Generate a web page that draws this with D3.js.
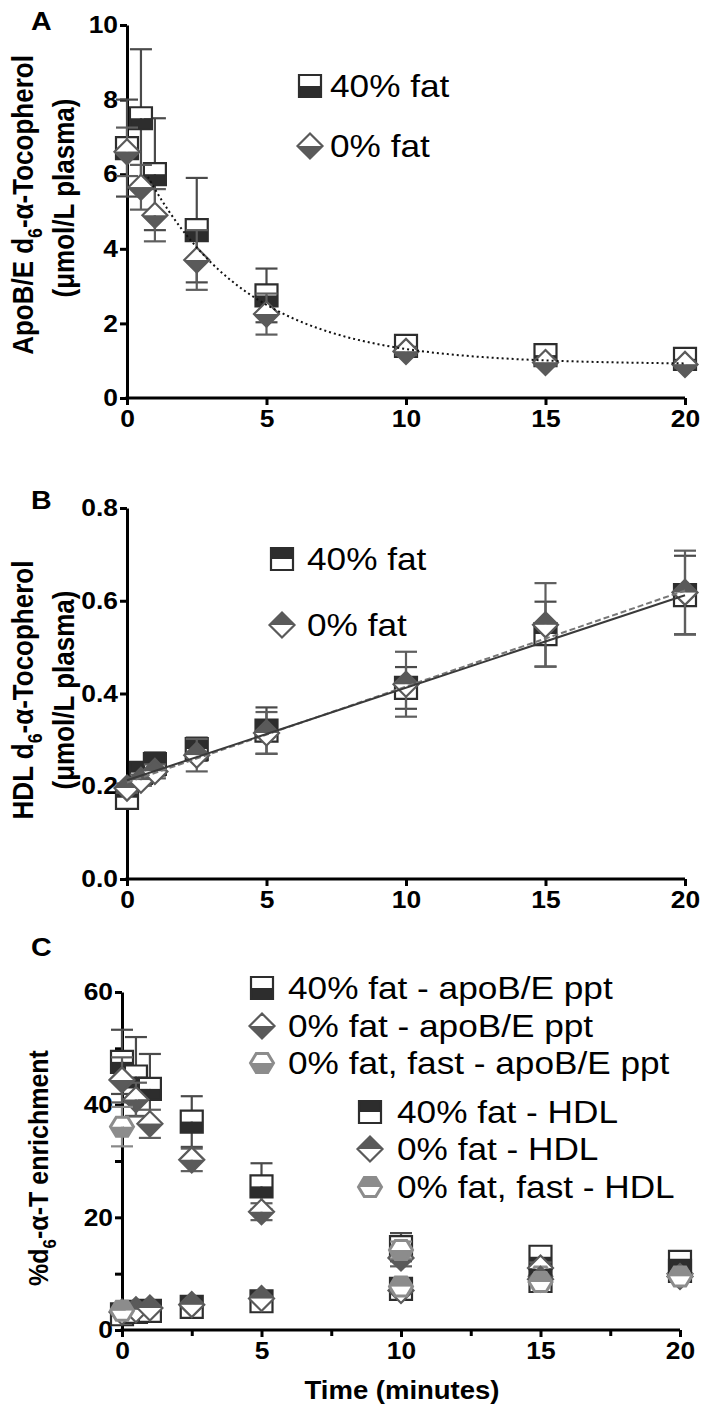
<!DOCTYPE html>
<html><head><meta charset="utf-8">
<script src="https://cdn.jsdelivr.net/npm/d3@7"></script>
<style>body{margin:0;background:#fff}svg{display:block}text{font-family:"Liberation Sans",Arial,sans-serif}</style>
</head><body>
<svg id="c" width="704" height="1411"></svg>
<script>
// ---------- DATA ----------
const times = [0, 0.5, 1, 2.5, 5, 10, 15, 20];
const fastTimes = [0, 10, 15, 20];
const xTicks = [0, 5, 10, 15, 20];

// Panel A: ApoB/E d6-alpha-tocopherol (umol/L plasma)
const aFat40 = [6.7, 7.5, 6.0, 4.5, 2.75, 1.4, 1.15, 1.05];
const aFat40Err = [1.3, 1.85, 1.5, 1.4, 0.72, 0.15, 0.1, 0.1];
const aFat0 = [6.6, 5.65, 4.9, 3.7, 2.25, 1.25, 0.95, 0.9];
const aFat0Err = [0.65, 0.6, 0.7, 0.8, 0.55, 0.1, 0.08, 0.08];
const aYTicks = [0, 2, 4, 6, 8, 10];
const aFit = {plateau: 0.9, span: 4.7, k: 0.27, t0: 1, tStart: 0.75, tEnd: 20};

// Panel B: HDL d6-alpha-tocopherol
const bFat40 = [0.175, 0.229, 0.248, 0.28, 0.32, 0.412, 0.528, 0.612];
const bFat40Err = [0.015, 0.015, 0.025, 0.025, 0.05, 0.045, 0.07, 0.085];
const bFat0 = [0.196, 0.213, 0.232, 0.267, 0.315, 0.42, 0.548, 0.618];
const bFat0Err = [0.01, 0.012, 0.015, 0.035, 0.045, 0.07, 0.09, 0.09];
const bYTicks = [0, 0.2, 0.4, 0.6, 0.8];
const bFit40 = {intercept: 0.213, slope: 0.01995};
const bFit0 = {intercept: 0.208, slope: 0.0207};

// Panel C: % d6-alpha-T enrichment
const cApoFat40 = [47.6, 45, 42.8, 37, 25.5, 14.7, 13.0, 12.1];
const cApoFat40Err = [5.7, 7, 6.2, 4.5, 4.1, 2.5, 1, 1];
const cApoFat0 = [44.4, 40.9, 36.6, 30.2, 21.0, 12.8, 11.0, 10.0];
const cApoFat0Err = [4, 3, 2.5, 2, 1.5, 1.5, 1, 0.8];
const cApoFast = [36.1, 14.2, 9.5, 10.0];
const cApoFastErr = [3.5, 1.5, 1, 1];
const cHdlFat40 = [2.8, 3.2, 3.4, 4.1, 5.1, 7.3, 8.7, 10.5];
const cHdlFat0 = [3.2, 3.6, 3.9, 4.5, 5.6, 7.0, 9.0, 9.5];
const cHdlFast = [3.4, 7.7, 8.5, 9.5];
const cYTicks = [0, 20, 40, 60];
const cYMinor = [10, 30, 50];
const cXMinor = [2.5, 7.5, 12.5, 17.5];

// ---------- STYLE ----------
const SX = 1.1;
const DARK = "#2d2d2d", MID = "#5a5a5a", LIGHT = "#8c8c8c";
const svg = d3.select("#c");

function stext(x, y, str, size, weight, anchor) {
  return svg.append("text").attr("transform", `translate(${x},${y}) scale(${SX},1)`)
    .attr("font-size", size).attr("font-weight", weight || "normal")
    .attr("text-anchor", anchor || "start").attr("fill", "#000").text(str);
}
function ytitle(x, y, parts, size) {
  const t = svg.append("text").attr("transform", `translate(${x},${y}) scale(${SX},1) rotate(-90)`)
    .attr("font-size", size).attr("font-weight", "bold").attr("text-anchor", "middle");
  parts.forEach(p => {
    const ts = t.append("tspan").text(p.t);
    if (p.sub) ts.attr("font-size", size * 0.68).attr("dy", size * 0.3);
    if (p.after) ts.attr("dy", -size * 0.3);
  });
  return t;
}

function styleAxis(g, isY) {
  g.select(".domain").attr("stroke", "#000").attr("stroke-width", 3);
  g.selectAll(".tick line").attr("stroke", "#000").attr("stroke-width", 3);
  g.selectAll(".tick text").attr("font-size", 24).attr("font-weight", "bold")
    .attr("font-family", '"Liberation Sans",Arial,sans-serif').attr("fill", "#000");
  if (isY) {
    g.selectAll(".tick text").each(function() {
      const s = d3.select(this); const x = +s.attr("x");
      s.attr("x", x / SX).attr("transform", `scale(${SX},1)`);
    });
  } else {
    g.selectAll(".tick text").attr("transform", `scale(${SX},1)`);
  }
}

function axes(x, y, yTicks, yFmt, xMinor, yMinor) {
  const x0 = x.range()[0], y0 = y.range()[0];
  const gy = svg.append("g").attr("transform", `translate(${x0},0)`)
    .call(d3.axisLeft(y).tickValues(yTicks).tickFormat(yFmt).tickSize(7).tickSizeOuter(0).tickPadding(2));
  styleAxis(gy, true);
  const gx = svg.append("g").attr("transform", `translate(0,${y0})`)
    .call(d3.axisBottom(x).tickValues(xTicks).tickFormat(d3.format("d")).tickSize(7).tickSizeOuter(0).tickPadding(5));
  styleAxis(gx, false);
  gx.select(".domain").attr("d", `M${x0 - 1.5},0H${x.range()[1]}`);
  if (yMinor) {
    const g = svg.append("g").attr("transform", `translate(${x0},0)`)
      .call(d3.axisLeft(y).tickValues(yMinor).tickFormat("").tickSize(7));
    g.select(".domain").remove();
    g.selectAll(".tick line").attr("stroke", "#000").attr("stroke-width", 3);
  }
  if (xMinor) {
    const g = svg.append("g").attr("transform", `translate(0,${y0})`)
      .call(d3.axisBottom(x).tickValues(xMinor).tickFormat("").tickSize(6));
    g.select(".domain").remove();
    g.selectAll(".tick line").attr("stroke", "#000").attr("stroke-width", 3);
  }
}

function marker(g, shape, cx, cy, top, bottom, stroke) {
  const s = 11;
  const gg = g.append("g").attr("transform", `translate(${cx},${cy})`);
  let tp, bp, outline;
  if (shape === "square") {
    tp = [[-s, -s], [s, -s], [s, 0], [-s, 0]]; bp = [[-s, 0], [s, 0], [s, s], [-s, s]];
    outline = [[-s, -s], [s, -s], [s, s], [-s, s]];
  } else if (shape === "diamond") {
    const r = 12.5;
    tp = [[-r, 0], [0, -r], [r, 0]]; bp = [[-r, 0], [r, 0], [0, r]];
    outline = [[-r, 0], [0, -r], [r, 0], [0, r]];
  } else {
    const r = 11.5, h = 9.5;
    tp = [[-r, 0], [-r / 2, -h], [r / 2, -h], [r, 0]]; bp = [[-r, 0], [r, 0], [r / 2, h], [-r / 2, h]];
    outline = [[-r, 0], [-r / 2, -h], [r / 2, -h], [r, 0], [r / 2, h], [-r / 2, h]];
  }
  gg.append("polygon").attr("points", tp.join(" ")).attr("fill", top);
  gg.append("polygon").attr("points", bp.join(" ")).attr("fill", bottom);
  gg.append("polygon").attr("points", outline.join(" ")).attr("fill", "none")
    .attr("stroke", stroke).attr("stroke-width", shape === "hex" ? 3 : 2.2).attr("stroke-linejoin", "miter");
}

function errorBars(x, y, ts, vals, errs, color) {
  const g = svg.append("g").attr("stroke", color).attr("stroke-width", 2.2);
  ts.forEach((t, i) => {
    if (!errs || !errs[i]) return;
    const cx = x(t), yt = y(vals[i] + errs[i]), yb = y(vals[i] - errs[i]);
    g.append("line").attr("x1", cx).attr("x2", cx).attr("y1", yt).attr("y2", yb);
    g.append("line").attr("x1", cx - 11).attr("x2", cx + 11).attr("y1", yt).attr("y2", yt);
    g.append("line").attr("x1", cx - 11).attr("x2", cx + 11).attr("y1", yb).attr("y2", yb);
  });
}
function series(x, y, ts, vals, errs, shape, top, bottom, stroke, errColor) {
  errorBars(x, y, ts, vals, errs, errColor);
  const g = svg.append("g");
  ts.forEach((t, i) => marker(g, shape, x(t), y(vals[i]), top, bottom, stroke));
}

// ---------- PANEL A ----------
{
  const x = d3.scaleLinear().domain([0, 20]).range([127, 685]);
  const y = d3.scaleLinear().domain([0, 10]).range([398, 25]);
  axes(x, y, aYTicks, d3.format("d"));
  series(x, y, times, aFat40, aFat40Err, "square", "#fff", DARK, DARK, "#4a4a4a");
  series(x, y, times, aFat0, aFat0Err, "diamond", "#fff", MID, MID, "#5e5e5e");
  const fitPts = d3.range(aFit.tStart, aFit.tEnd + 0.001, 0.25)
    .map(t => [t, aFit.plateau + aFit.span * Math.exp(-aFit.k * (t - aFit.t0))]);
  svg.append("path").attr("d", d3.line().x(d => x(d[0])).y(d => y(d[1])).curve(d3.curveBasis)(fitPts))
    .attr("fill", "none").attr("stroke", "#111").attr("stroke-width", 2).attr("stroke-dasharray", "2,3");
  ytitle(33, 205, [{t: "ApoB/E d"}, {t: "6", sub: true}, {t: "-α-Tocopherol", after: true}], 26);
  ytitle(74, 198, [{t: "(μmol/L plasma)"}], 26);
  stext(31, 30, "A", 26, "bold");
  marker(svg, "square", 310, 86, "#fff", DARK, DARK);
  stext(330, 97, "40% fat", 32);
  marker(svg, "diamond", 310, 146, "#fff", MID, MID);
  stext(330, 157, "0% fat", 32);
}

// ---------- PANEL B ----------
{
  const x = d3.scaleLinear().domain([0, 20]).range([127, 685]);
  const y = d3.scaleLinear().domain([0, 0.8]).range([879, 508]);
  axes(x, y, bYTicks, d3.format(".1f"));
  series(x, y, times, bFat40, bFat40Err, "square", DARK, "#fff", DARK, "#4a4a4a");
  series(x, y, times, bFat0, bFat0Err, "diamond", MID, "#fff", MID, "#5e5e5e");
  const line = d3.line().x(d => x(d[0])).y(d => y(d[1]));
  svg.append("path").attr("d", line([[0, bFit0.intercept], [20, bFit0.intercept + 20 * bFit0.slope]]))
    .attr("fill", "none").attr("stroke", "#777").attr("stroke-width", 2).attr("stroke-dasharray", "6,3");
  svg.append("path").attr("d", line([[0, bFit40.intercept], [20, bFit40.intercept + 20 * bFit40.slope]]))
    .attr("fill", "none").attr("stroke", "#3a3a3a").attr("stroke-width", 2);
  ytitle(33, 690, [{t: "HDL d"}, {t: "6", sub: true}, {t: "-α-Tocopherol", after: true}], 26);
  ytitle(74, 690, [{t: "(μmol/L plasma)"}], 26);
  stext(31, 509, "B", 26, "bold");
  marker(svg, "square", 282, 559, DARK, "#fff", DARK);
  stext(307, 570, "40% fat", 32);
  marker(svg, "diamond", 282, 625, MID, "#fff", MID);
  stext(307, 636, "0% fat", 32);
}

// ---------- PANEL C ----------
{
  const x = d3.scaleLinear().domain([0, 20]).range([122, 680]);
  const y = d3.scaleLinear().domain([0, 60]).range([1330, 992]);
  axes(x, y, cYTicks, d3.format("d"), cXMinor, cYMinor);
  series(x, y, times, cApoFat40, cApoFat40Err, "square", "#fff", DARK, DARK, "#4a4a4a");
  series(x, y, times, cApoFat0, cApoFat0Err, "diamond", "#fff", MID, MID, "#5e5e5e");
  series(x, y, fastTimes, cApoFast, cApoFastErr, "hex", "#fff", LIGHT, LIGHT, "#888");
  series(x, y, times, cHdlFat40, null, "square", DARK, "#fff", DARK, "#4a4a4a");
  series(x, y, times, cHdlFat0, null, "diamond", MID, "#fff", MID, "#5e5e5e");
  series(x, y, fastTimes, cHdlFast, null, "hex", LIGHT, "#fff", LIGHT, "#888");
  ytitle(48, 1168, [{t: "%d"}, {t: "6", sub: true}, {t: "-α-T enrichment", after: true}], 25);
  stext(31, 956, "C", 26, "bold");
  const lg1 = [["square", "#fff", DARK, DARK, "40% fat - apoB/E ppt", 988],
               ["diamond", "#fff", MID, MID, "0% fat - apoB/E ppt", 1026],
               ["hex", "#fff", LIGHT, LIGHT, "0% fat, fast - apoB/E ppt", 1063]];
  lg1.forEach(d => { marker(svg, d[0], 262, d[5], d[1], d[2], d[3]); stext(288, d[5] + 11, d[4], 32); });
  const lg2 = [["square", DARK, "#fff", DARK, "40% fat - HDL", 1112],
               ["diamond", MID, "#fff", MID, "0% fat - HDL", 1149],
               ["hex", LIGHT, "#fff", LIGHT, "0% fat, fast - HDL", 1187]];
  lg2.forEach(d => { marker(svg, d[0], 370, d[5], d[1], d[2], d[3]); stext(397, d[5] + 11, d[4], 32); });
  stext(402, 1399, "Time (minutes)", 25, "bold", "middle");
}
</script>
</body></html>
